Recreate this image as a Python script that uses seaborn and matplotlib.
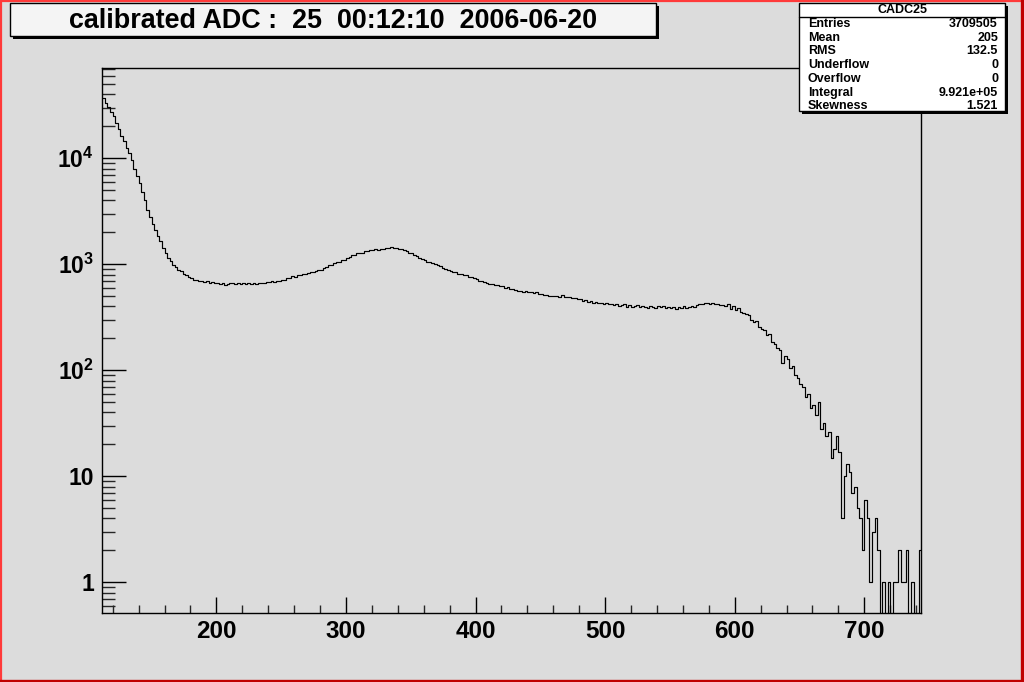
import numpy as np
import pandas as pd
import matplotlib
matplotlib.use("Agg")
import matplotlib.pyplot as plt
import seaborn as sns
from matplotlib.patches import Rectangle
from matplotlib.lines import Line2D
from matplotlib.ticker import LogLocator, FixedLocator, FixedFormatter, MultipleLocator, NullFormatter

# ---------------- data ----------------
title_text = "calibrated ADC :  25  00:12:10  2006-06-20"
hist_name = "CADC25"
stat_labels = ["Entries", "Mean", "RMS", "Underflow", "Overflow", "Integral", "Skewness"]
stat_values = ["3709505", "205", "132.5", "0", "0", "9.921e+05", "1.521"]

bin_lo = 112
bin_hi = 744
bin_width = 2

counts = [
    37400, 33200, 30400, 27100, 24800, 21300, 18900, 16200, 14600, 12500,
    11100, 9600, 7950, 6750, 5900, 4850, 4050, 3280, 2790, 2380,
    2090, 1840, 1650, 1420, 1290, 1150, 1080, 985, 940, 885,
    860, 815, 795, 752, 745, 718, 715, 698, 700, 684,
    690, 672, 678, 660, 670, 648, 662, 640, 655, 660,
    665, 650, 668, 655, 672, 650, 663, 658, 668, 652,
    665, 672, 660, 680, 675, 688, 682, 695, 700, 708,
    715, 740, 738, 768, 765, 795, 790, 815, 818, 836,
    845, 850, 868, 880, 890, 925, 940, 980, 990, 1020,
    1045, 1060, 1095, 1105, 1150, 1160, 1210, 1225, 1265, 1270,
    1290, 1320, 1325, 1355, 1350, 1385, 1375, 1400, 1395, 1420,
    1430, 1445, 1415, 1420, 1390, 1385, 1350, 1335, 1290, 1265,
    1230, 1185, 1155, 1110, 1095, 1060, 1055, 1025, 1015, 980,
    960, 925, 910, 880, 870, 845, 840, 815, 810, 788,
    785, 762, 758, 735, 730, 702, 698, 675, 672, 655,
    655, 638, 640, 620, 618, 602, 605, 588, 586, 570,
    565, 562, 548, 555, 545, 550, 538, 545, 528, 522,
    515, 512, 500, 504, 498, 506, 495, 508, 490, 496,
    490, 478, 482, 468, 470, 455, 456, 443, 446, 435,
    438, 428, 433, 424, 430, 418, 424, 412, 418, 408,
    410, 420, 398, 412, 395, 405, 415, 392, 402, 398,
    388, 405, 395, 385, 400, 392, 408, 390, 398, 386,
    395, 380, 398, 390, 402, 385, 396, 405, 392, 410,
    425, 418, 430, 428, 422, 432, 418, 425, 410, 415,
    400, 420, 380, 405, 370, 385, 355, 350, 338, 330,
    300, 285, 290, 255, 245, 240, 215, 220, 185, 178,
    162, 155, 118, 135, 128, 105, 110, 90, 85, 74,
    70, 56, 60, 44, 47, 38, 50, 28, 32, 24,
    26, 15, 18, 24, 17, 4, 10, 13, 11, 7,
    8, 5, 4, 2,
    6, 4, 1, 3, 4, 2, 0, 1, 0, 1, 0, 1, 1, 2, 1, 1, 2, 0, 1, 0, 0, 2,
]

x_major = [200, 300, 400, 500, 600, 700]
y_major = [1, 10, 100, 1000, 10000]
y_major_labels = ["1", "10", "$10^{2}$", "$10^{3}$", "$10^{4}$"]

# ---------------- style ----------------
W, H = 1024, 682
BG = "#dcdcdc"
sns.set_theme(style="ticks")
plt.rcParams["font.family"] = ["Liberation Sans", "DejaVu Sans"]
plt.rcParams["font.weight"] = "bold"
plt.rcParams["mathtext.fontset"] = "custom"
plt.rcParams["mathtext.rm"] = "Liberation Sans:bold"
plt.rcParams["mathtext.it"] = "Liberation Sans:bold"
plt.rcParams["mathtext.bf"] = "Liberation Sans:bold"

fig = plt.figure(figsize=(W / 100, H / 100), dpi=100, facecolor=BG)

def fx(px):
    return px / W

def fy(py):
    return 1 - py / H

ax_l, ax_r, ax_t, ax_b = 102.3, 921.3, 68.3, 613.0
ax = fig.add_axes([fx(ax_l), fy(ax_b), fx(ax_r) - fx(ax_l), fy(ax_t) - fy(ax_b)])
ax.set_facecolor(BG)

n_bins = len(counts)
centers = bin_lo + bin_width * (np.arange(n_bins) + 0.5)
df = pd.DataFrame({"adc": centers, "n": np.array(counts, dtype=float)})

sns.histplot(data=df, x="adc", weights="n", binwidth=bin_width, binrange=(bin_lo, bin_hi),
             element="step", fill=False, color="black", linewidth=0.85, ax=ax)
ax.set_yscale("log")
ax.set_xlim(bin_lo, bin_hi)
ax.set_ylim(0.513, 70600)
ax.set_xlabel("")
ax.set_ylabel("")

for s in ax.spines.values():
    s.set_color("black")
    s.set_linewidth(1.0)
    s.set_visible(True)

ax.xaxis.set_major_locator(FixedLocator(x_major))
ax.xaxis.set_minor_locator(MultipleLocator(20))
ax.yaxis.set_major_locator(FixedLocator(y_major))
ax.yaxis.set_major_formatter(FixedFormatter(y_major_labels))
ax.yaxis.set_minor_locator(LogLocator(base=10, subs=np.arange(2, 10), numticks=20))
ax.yaxis.set_minor_formatter(NullFormatter())

ax.tick_params(axis="x", which="major", direction="in", length=11.5, width=1, pad=5,
               labelsize=17.5, colors="black", top=False, bottom=True)
ax.tick_params(axis="x", which="minor", direction="in", length=6, width=1, top=False, bottom=True)
ax.tick_params(axis="y", which="major", direction="in", length=17.5, width=1, pad=6,
               labelsize=16.5, colors="black", left=True, right=False)
ax.tick_params(axis="y", which="minor", direction="in", length=9, width=1, left=True, right=False)
for lab in ax.get_xticklabels() + ax.get_yticklabels():
    lab.set_fontweight("bold")

# ---------------- title box ----------------
def shadow_box(x0, y0, x1, y1, face, z=5):
    fig.add_artist(Rectangle((fx(x0 + 3), fy(y1 + 3)), fx(x1 - x0), fy(y0) - fy(y1),
                             transform=fig.transFigure, facecolor="black",
                             edgecolor="none", zorder=z))
    fig.add_artist(Rectangle((fx(x0), fy(y1)), fx(x1 - x0), fy(y0) - fy(y1),
                             transform=fig.transFigure, facecolor=face,
                             edgecolor="black", linewidth=1.0, zorder=z + 1))

shadow_box(10, 3, 656, 36, "#f4f4f4")
fig.text(fx(333), fy(21.5), title_text, ha="center", va="center", fontsize=19.4,
         fontweight="bold", color="black", zorder=10)

# ---------------- stats box ----------------
shadow_box(799, 3, 1005, 111, "white")
fig.add_artist(Line2D([fx(799), fx(1005)], [fy(16.5), fy(16.5)], transform=fig.transFigure,
                      color="black", linewidth=1.0, zorder=8))
fig.text(fx(902), fy(10), hist_name, ha="center", va="center", fontsize=9,
         fontweight="bold", color="black", zorder=10)
row_y = [24.3, 37.7, 51, 65, 79.3, 93.3, 106]
for yy, lab, val in zip(row_y, stat_labels, stat_values):
    fig.text(fx(808), fy(yy), lab, ha="left", va="center", fontsize=9,
             fontweight="bold", color="black", zorder=10)
    fig.text(fx(998), fy(yy), val, ha="right", va="center", fontsize=9,
             fontweight="bold", color="black", zorder=10)

# ---------------- red canvas frame ----------------
fig.add_artist(Line2D([0, 1], [fy(1), fy(1)], transform=fig.transFigure, color="#ff3a3a", linewidth=1.6, zorder=20))
fig.add_artist(Line2D([fx(1), fx(1)], [0, 1], transform=fig.transFigure, color="#ff3a3a", linewidth=1.6, zorder=20))
fig.add_artist(Line2D([fx(1022), fx(1022)], [0, 1], transform=fig.transFigure, color="#c00000", linewidth=2.4, zorder=20))
fig.add_artist(Line2D([0, 1], [fy(680.5), fy(680.5)], transform=fig.transFigure, color="#c00000", linewidth=2.4, zorder=20))

fig.savefig("out.png", dpi=100, facecolor=BG)
